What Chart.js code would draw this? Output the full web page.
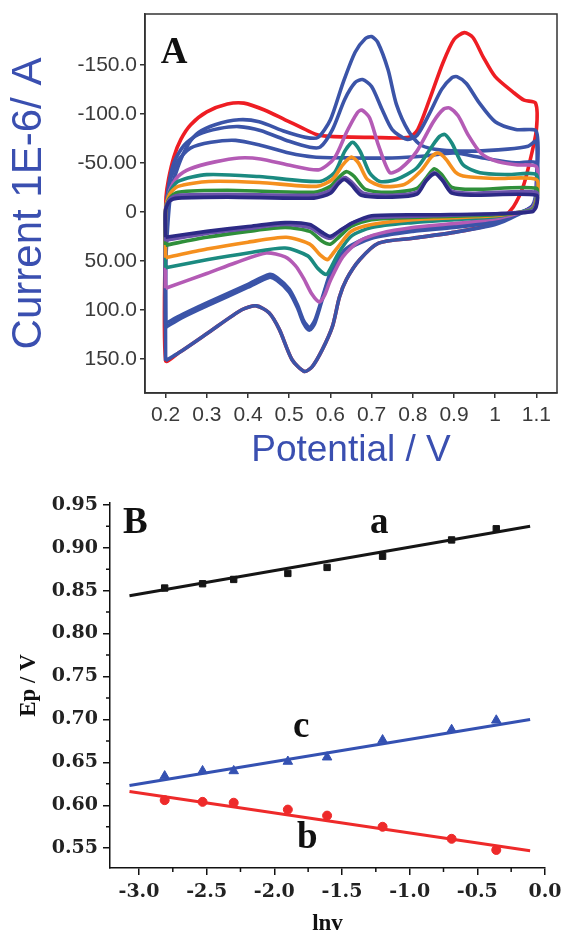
<!DOCTYPE html>
<html>
<head>
<meta charset="utf-8">
<script src="https://cdn.jsdelivr.net/npm/chart.js@4.4.1/dist/chart.umd.min.js"></script>
<style>
  body { margin: 0; background: #fff; }
  #wrapA { position: absolute; left: 0; top: 0; width: 563px; height: 475px; }
  #wrapB { position: absolute; left: 0; top: 480px; width: 563px; height: 458px; }
</style>
</head>
<body>
<div id="wrapA"><canvas id="cvA" width="563" height="475"></canvas></div>
<div id="wrapB"><canvas id="cvB" width="563" height="458"></canvas></div>
<script>
// ---- panel A : cyclic voltammograms, [potential V, current 1E-6 A] ----
const potentialTicks = [0.2, 0.3, 0.4, 0.5, 0.6, 0.7, 0.8, 0.9, 1.0, 1.1];
const potentialTickLabels = ['0.2', '0.3', '0.4', '0.5', '0.6', '0.7', '0.8', '0.9', '1', '1.1'];
const currentTicks = [-150, -100, -50, 0, 50, 100, 150];
const currentTickLabels = ['-150.0', '-100.0', '-50.00', '0', '50.00', '100.0', '150.0'];

const cvRed = [
  [0.200,10],[0.201,-15],[0.207,-33],[0.220,-56],[0.237,-74],[0.261,-89],[0.300,-102],[0.350,-110],[0.390,-111],
  [0.440,-104],[0.490,-94],[0.530,-86],[0.566,-79],[0.600,-77],[0.700,-76],[0.790,-76],[0.812,-84],[0.840,-114],
  [0.873,-152],[0.900,-176],[0.925,-183],[0.946,-178],[0.971,-158],[1.000,-138],[1.044,-122],[1.070,-114],[1.098,-111],
  [1.100,-84],[1.085,-53],[1.068,-26],[1.044,-5],[1.020,5],[0.980,14],[0.900,21],[0.800,27],[0.717,32],[0.671,49],
  [0.639,69],[0.622,87],[0.605,117],[0.580,141],[0.556,158],[0.537,163],[0.507,151],[0.476,120],[0.451,103],
  [0.420,96],[0.385,100],[0.305,123],[0.232,144],[0.200,152],[0.200,10]
];
const cvBlue1 = [
  [0.200,152],[0.200,60],[0.205,15],[0.213,-20],[0.230,-46],[0.255,-69],[0.280,-81],[0.320,-89],[0.378,-94],
  [0.427,-92],[0.490,-82],[0.540,-76],[0.570,-76],[0.600,-94],[0.630,-131],[0.660,-163],[0.685,-177],[0.700,-179],
  [0.715,-173],[0.740,-145],[0.760,-110],[0.790,-82],[0.820,-68],[0.870,-63],[0.950,-62],[1.030,-64],[1.080,-67],
  [1.100,-72],[1.100,-30],[1.095,-8],[1.050,4],[1.000,13],[0.900,21],[0.800,27],[0.717,32],[0.671,49],[0.639,69],
  [0.622,87],[0.605,117],[0.580,141],[0.556,158],[0.537,163],[0.507,151],[0.476,120],[0.451,103],[0.420,96],
  [0.385,100],[0.305,123],[0.232,144],[0.200,152]
];
const cvBlue2 = [
  [0.200,118],[0.200,10],[0.207,-25],[0.220,-50],[0.245,-68],[0.280,-79],[0.330,-85],[0.378,-87],[0.430,-83],
  [0.500,-72],[0.550,-66],[0.575,-66],[0.605,-84],[0.635,-115],[0.660,-132],[0.678,-135],[0.700,-128],[0.725,-105],
  [0.750,-84],[0.785,-74],[0.810,-78],[0.840,-100],[0.870,-125],[0.895,-137],[0.907,-138],[0.930,-131],[0.960,-112],
  [1.000,-92],[1.050,-84],[1.100,-82],[1.100,-25],[1.090,-6],[1.050,3],[1.000,10],[0.900,16],[0.800,20],[0.700,27],
  [0.640,39],[0.605,59],[0.580,90],[0.562,114],[0.549,121],[0.535,114],[0.520,98],[0.500,82],[0.470,70],[0.451,67],
  [0.400,77],[0.300,96],[0.240,108],[0.200,118]
];
const cvBlue3 = [
  [0.200,114],[0.200,5],[0.210,-30],[0.230,-52],[0.260,-65],[0.310,-71],[0.370,-73],[0.430,-68],[0.500,-60],
  [0.560,-56],[0.650,-55],[0.750,-55],[0.830,-57],[0.900,-60],[0.970,-55],[1.050,-50],[1.100,-50],[1.100,-20],
  [1.090,-5],[1.050,2],[1.000,8],[0.900,14],[0.800,18],[0.700,25],[0.640,37],[0.605,57],[0.580,88],[0.562,111],
  [0.549,118],[0.535,111],[0.520,95],[0.500,79],[0.470,67],[0.451,64],[0.400,74],[0.300,93],[0.240,105],[0.200,114]
];
const cvMagenta = [
  [0.200,78],[0.200,5],[0.210,-22],[0.230,-36],[0.260,-44],[0.320,-51],[0.378,-55],[0.430,-54],[0.507,-47],
  [0.573,-43],[0.610,-55],[0.640,-82],[0.665,-101],[0.676,-104],[0.695,-96],[0.715,-70],[0.744,-40],[0.770,-44],
  [0.810,-62],[0.850,-92],[0.875,-105],[0.890,-106],[0.910,-98],[0.935,-78],[0.965,-60],[1.000,-52],[1.050,-48],
  [1.100,-46],[1.100,-18],[1.090,-4],[1.050,2],[1.000,7],[0.900,12],[0.800,16],[0.720,22],[0.670,30],[0.630,46],
  [0.600,70],[0.585,86],[0.573,92],[0.555,84],[0.535,68],[0.515,55],[0.490,46],[0.444,42],[0.370,52],[0.300,63],
  [0.200,78]
];
const cvTeal = [
  [0.200,57],[0.200,0],[0.210,-20],[0.230,-31],[0.300,-38],[0.427,-36],[0.573,-31],[0.610,-40],[0.635,-62],
  [0.654,-71],[0.672,-62],[0.695,-40],[0.720,-31],[0.760,-33],[0.810,-45],[0.845,-66],[0.865,-77],[0.878,-79],
  [0.895,-70],[0.922,-48],[0.963,-40],[1.030,-38],[1.100,-38],[1.100,-15],[1.090,-3],[1.050,1],[1.000,5],
  [0.900,8],[0.800,11],[0.700,16],[0.650,25],[0.620,42],[0.600,58],[0.590,64],[0.570,58],[0.545,45],[0.490,37],
  [0.400,42],[0.300,49],[0.200,57]
];
const cvOrange = [
  [0.200,47],[0.200,-2],[0.210,-18],[0.230,-26],[0.305,-31],[0.427,-30],[0.566,-26],[0.605,-33],[0.630,-48],
  [0.651,-56],[0.668,-50],[0.690,-33],[0.727,-26],[0.780,-28],[0.820,-42],[0.845,-56],[0.861,-60],[0.880,-54],
  [0.905,-40],[0.930,-36],[1.000,-34],[1.100,-33],[1.100,-12],[1.090,-2],[1.050,1],[1.000,4],[0.900,6],[0.800,8],
  [0.700,13],[0.650,20],[0.620,35],[0.600,46],[0.593,49],[0.575,44],[0.550,33],[0.493,26],[0.400,31],[0.300,38],
  [0.200,47]
];
const cvGreen = [
  [0.200,34],[0.200,-2],[0.210,-14],[0.230,-20],[0.350,-22],[0.560,-20],[0.600,-26],[0.625,-37],[0.640,-41],
  [0.658,-36],[0.685,-23],[0.750,-20],[0.810,-24],[0.835,-36],[0.852,-44],[0.870,-38],[0.895,-25],[0.950,-23],
  [1.100,-24],[1.100,-10],[1.090,-2],[1.000,3],[0.850,5],[0.700,8],[0.650,15],[0.620,26],[0.600,33],[0.580,30],
  [0.550,20],[0.490,16],[0.400,20],[0.300,26],[0.200,34]
];
const cvPurple = [
  [0.200,30],[0.200,-3],[0.210,-13],[0.230,-17],[0.350,-18],[0.560,-17],[0.600,-22],[0.620,-31],[0.636,-35],
  [0.652,-30],[0.680,-19],[0.750,-17],[0.810,-20],[0.833,-33],[0.852,-40],[0.870,-34],[0.895,-21],[0.950,-19],
  [1.100,-20],[1.100,-8],[1.090,-1],[1.000,2],[0.850,4],[0.700,6],[0.650,12],[0.620,21],[0.600,27],[0.580,24],
  [0.550,16],[0.490,13],[0.400,17],[0.300,22],[0.200,29]
];
const cvNavy = [
  [0.200,26],[0.200,-2],[0.210,-11],[0.230,-14],[0.350,-15],[0.560,-14],[0.600,-19],[0.620,-29],[0.634,-33],
  [0.650,-28],[0.675,-17],[0.750,-15],[0.810,-18],[0.833,-32],[0.854,-39],[0.872,-32],[0.895,-19],[0.950,-17],
  [1.100,-17],[1.100,-6],[1.090,0],[1.000,2],[0.850,3],[0.700,4],[0.650,12],[0.620,20],[0.600,25],[0.580,21],
  [0.550,13],[0.490,11],[0.400,15],[0.300,20],[0.200,26]
];

// ---- panel B : peak potential vs ln v ----
const lnv = [-2.81, -2.53, -2.30, -1.90, -1.61, -1.20, -0.69, -0.36];
const epA = [0.853, 0.858, 0.863, 0.870, 0.877, 0.890, 0.909, 0.922];
const epB = [0.606, 0.604, 0.603, 0.595, 0.588, 0.575, 0.561, 0.548];
const epC = [0.634, 0.640, 0.640, 0.651, 0.656, 0.676, 0.688, 0.699];
const fitA = [[-3.07, 0.844], [-0.11, 0.925]];
const fitB = [[-3.07, 0.616], [-0.11, 0.547]];
const fitC = [[-3.07, 0.623], [-0.11, 0.700]];
const lnvTicks = [-3.0, -2.5, -2.0, -1.5, -1.0, -0.5, 0.0];
const lnvTickLabels = ['-3.0', '-2.5', '-2.0', '-1.5', '-1.0', '-0.5', '0.0'];
const epTicks = [0.55, 0.60, 0.65, 0.70, 0.75, 0.80, 0.85, 0.90, 0.95];
const epTickLabels = ['0.55', '0.60', '0.65', '0.70', '0.75', '0.80', '0.85', '0.90', '0.95'];

const toXY = arr => arr.map(p => ({ x: p[0], y: p[1] }));

// fixed scale sizes so the plot areas land where the original ones are
function fixWidth(w) {
  return function (scale) {
    scale.width = w;
    scale.paddingTop = 0; scale.paddingBottom = 0; scale.paddingLeft = 0; scale.paddingRight = 0;
  };
}
function fixHeight(h) {
  return function (scale) {
    scale.height = h;
    scale.paddingTop = 0; scale.paddingBottom = 0; scale.paddingLeft = 0; scale.paddingRight = 0;
  };
}
function setTicks(values) {
  return function (scale) {
    scale.ticks = values.map(v => ({ value: v }));
  };
}

const decor = {
  id: 'decor',
  afterDraw(chart, args, opts) {
    const ctx = chart.ctx, a = chart.chartArea;
    const xs = chart.scales.x, ys = chart.scales.y;
    ctx.save();
    if (opts.box) {
      ctx.strokeStyle = opts.boxColor;
      ctx.lineWidth = opts.boxWidth;
      ctx.strokeRect(a.left, a.top, a.right - a.left, a.bottom - a.top);
    }
    if (opts.minorLen) {
      ctx.strokeStyle = opts.minorColor;
      ctx.lineWidth = 1.5;
      ctx.beginPath();
      for (let i = 0; i < xs.ticks.length - 1; i++) {
        const px = xs.getPixelForValue((xs.ticks[i].value + xs.ticks[i + 1].value) / 2);
        ctx.moveTo(px, a.bottom); ctx.lineTo(px, a.bottom + opts.minorLen);
      }
      for (let i = 0; i < ys.ticks.length - 1; i++) {
        const py = ys.getPixelForValue((ys.ticks[i].value + ys.ticks[i + 1].value) / 2);
        ctx.moveTo(a.left, py); ctx.lineTo(a.left - opts.minorLen, py);
      }
      ctx.stroke();
    }
    (opts.labels || []).forEach(l => {
      ctx.font = opts.labelFont;
      ctx.fillStyle = '#111';
      ctx.textAlign = 'left';
      ctx.textBaseline = 'alphabetic';
      ctx.fillText(l.text, xs.getPixelForValue(l.x), ys.getPixelForValue(l.y));
    });
    ctx.restore();
  }
};

function cvSet(data, color) {
  return {
    data: toXY(data), showLine: true, borderColor: color, borderWidth: 3.6,
    pointRadius: 0, tension: 0.25, fill: false, borderJoinStyle: 'round'
  };
}

const sansTick = { family: "'Liberation Sans', Arial, sans-serif", size: 21 };
const sansTitle = { family: "'Liberation Sans', Arial, sans-serif", size: 37 };

new Chart(document.getElementById('cvA'), {
  type: 'scatter',
  data: {
    datasets: [
      cvSet(cvNavy, '#2c2a85'),
      cvSet(cvPurple, '#6a52aa'),
      cvSet(cvGreen, '#2f8f3a'),
      cvSet(cvOrange, '#f5901e'),
      cvSet(cvTeal, '#1b8a80'),
      cvSet(cvMagenta, '#b45bb5'),
      cvSet(cvBlue3, '#3b54a8'),
      cvSet(cvBlue2, '#3b54a8'),
      cvSet(cvBlue1, '#3b54a8'),
      cvSet(cvRed, '#ee1d23')
    ]
  },
  options: {
    responsive: false,
    animation: false,
    devicePixelRatio: 1,
    layout: { padding: { top: 14, right: 6, left: 0, bottom: 0 } },
    plugins: {
      legend: { display: false },
      tooltip: { enabled: false },
      decor: {
        box: true, boxColor: '#333', boxWidth: 1.5,
        labels: [{ text: 'A', x: 0.188, y: -152 }],
        labelFont: "bold 37px 'Liberation Serif', 'Times New Roman', serif"
      }
    },
    scales: {
      x: {
        type: 'linear', min: 0.15, max: 1.15,
        afterBuildTicks: setTicks(potentialTicks),
        afterFit: fixHeight(82),
        ticks: {
          callback: (v, i) => potentialTickLabels[i],
          font: sansTick, color: '#3a3a3a', padding: 5, maxRotation: 0, autoSkip: false
        },
        grid: { drawOnChartArea: false, tickLength: 5, color: '#333', lineWidth: 1.5 },
        border: { color: '#333', width: 1.5 },
        title: { display: true, text: 'Potential / V', font: sansTitle, color: '#3a4fb0', padding: { top: 0, bottom: 2 } }
      },
      y: {
        type: 'linear', min: -202, max: 185, reverse: true,
        afterBuildTicks: setTicks(currentTicks),
        afterFit: fixWidth(145),
        ticks: {
          callback: (v, i) => currentTickLabels[i],
          font: sansTick, color: '#3a3a3a', padding: 3, autoSkip: false
        },
        grid: { drawOnChartArea: false, tickLength: 5, color: '#333', lineWidth: 1.5 },
        border: { color: '#333', width: 1.5 },
        title: { display: true, text: 'Current 1E-6/ A', font: { family: sansTitle.family, size: 42 }, color: '#3a4fb0', padding: { top: 4, bottom: 0 } }
      }
    }
  },
  plugins: [decor]
});

const serifTick = { family: "'DejaVu Serif', serif", size: 19, weight: 'bold' };
const serifTitle = { family: "'Liberation Serif', 'Times New Roman', serif", size: 23, weight: 'bold' };

function pointsSet(ys, color, style, radius) {
  return {
    data: lnv.map((x, i) => ({ x: x, y: ys[i] })), showLine: false,
    pointStyle: style, pointRadius: radius, pointBackgroundColor: color, pointBorderColor: color, pointBorderWidth: 1
  };
}
function fitSet(line, color) {
  return { data: toXY(line), showLine: true, borderColor: color, borderWidth: 3, pointRadius: 0 };
}

new Chart(document.getElementById('cvB'), {
  type: 'scatter',
  data: {
    datasets: [
      pointsSet(epA, '#151515', 'rect', 4.5),
      pointsSet(epB, '#ee2a2a', 'circle', 4.5),
      pointsSet(epC, '#3451b2', 'triangle', 5.5),
      fitSet(fitA, '#151515'),
      fitSet(fitB, '#ee2a2a'),
      fitSet(fitC, '#3451b2')
    ]
  },
  options: {
    responsive: false,
    animation: false,
    devicePixelRatio: 1,
    layout: { padding: { top: 23, right: 18, left: 0, bottom: 0 } },
    plugins: {
      legend: { display: false },
      tooltip: { enabled: false },
      decor: {
        minorLen: 4, minorColor: '#111',
        labels: [
          { text: 'B', x: -3.118, y: 0.9173 },
          { text: 'a', x: -1.293, y: 0.9173 },
          { text: 'c', x: -1.862, y: 0.6794 },
          { text: 'b', x: -1.832, y: 0.550 }
        ],
        labelFont: "bold 37px 'Liberation Serif', 'Times New Roman', serif"
      }
    },
    scales: {
      x: {
        type: 'linear', min: -3.214, max: 0,
        afterBuildTicks: setTicks(lnvTicks),
        afterFit: fixHeight(70),
        ticks: {
          callback: (v, i) => lnvTickLabels[i],
          font: serifTick, color: '#222', padding: 6, maxRotation: 0, autoSkip: false
        },
        grid: { drawOnChartArea: false, tickLength: 7, color: '#111', lineWidth: 1.5 },
        border: { color: '#111', width: 1.5 },
        title: { display: true, text: 'lnv', font: serifTitle, color: '#111', padding: { top: 0, bottom: 0 } }
      },
      y: {
        type: 'linear', min: 0.527, max: 0.952,
        afterBuildTicks: setTicks(epTicks),
        afterFit: fixWidth(110),
        ticks: {
          callback: (v, i) => epTickLabels[i],
          font: serifTick, color: '#222', padding: 5, autoSkip: false
        },
        grid: { drawOnChartArea: false, tickLength: 7, color: '#111', lineWidth: 1.5 },
        border: { color: '#111', width: 1.5 },
        title: { display: true, text: 'Ep / V', font: serifTitle, color: '#111', padding: { top: 15, bottom: 0 } }
      }
    }
  },
  plugins: [decor]
});
</script>
</body>
</html>
